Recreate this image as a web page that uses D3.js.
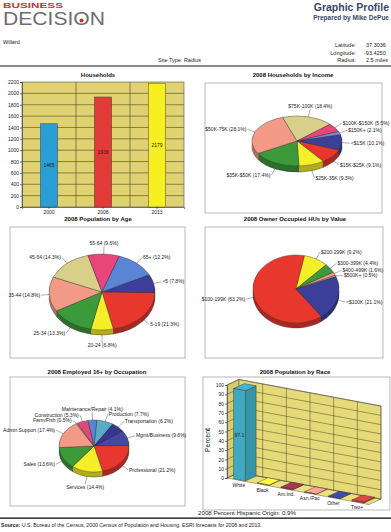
<!DOCTYPE html>
<html>
<head>
<meta charset="utf-8">
<script src="https://cdn.jsdelivr.net/npm/d3@7"></script>
<style>
  body { margin: 0; background: #fff; }
  svg { display: block; font-family: "Liberation Sans", Arial, sans-serif; }
</style>
</head>
<body>
<script>
// ---- data ----
const hhYears = ["2000", "2008", "2013"];
const hhValues = [1465, 1936, 2179];
const hhColors = ["#2a9fd6", "#e23a36", "#f7ef1f"];

const incomeLabels = ["<$15K", "$15K-$25K", "$25K-35K", "$35K-$50K", "$50K-75K", "$75K-100K", "$100K-$150K", "$150K+"];
const incomeValues = [10.1, 9.1, 9.3, 17.4, 28.1, 18.4, 5.5, 2.1];
const incomeColors = ["#3b3f9a", "#e8382e", "#f5ef2a", "#3c9a3a", "#f29a86", "#d8d08a", "#e8457a", "#7a8ad0"];

const ageLabels = ["<5", "5-19", "20-24", "25-34", "35-44", "45-54", "55-64", "65+"];
const ageValues = [7.8, 21.3, 6.8, 13.3, 14.8, 14.3, 9.6, 12.2];
const ageColors = ["#3b3f9a", "#e8382e", "#f5ef2a", "#3c9a3a", "#f29a86", "#d8d08a", "#e8457a", "#5a84d4"];

const valueLabels = ["<$100K", "$100-199K", "$200-299K", "$300-399K", "$400-499K", "$500K+"];
const valueValues = [21.1, 63.2, 9.2, 4.4, 1.6, 0.5];
const valueColors = ["#3b3f9a", "#e8382e", "#f5ef2a", "#3c9a3a", "#f29a86", "#d8d08a"];

const occLabels = ["Mgmt/Business", "Professional", "Services", "Sales", "Admin Support", "Farm/Fish", "Construction", "Maintenance/Repair", "Production", "Transportation"];
const occValues = [9.6, 21.2, 14.4, 13.6, 17.4, 0.5, 5.3, 4.1, 7.7, 6.2];
const occColors = ["#4547a2", "#e8382e", "#f5ef2a", "#3c9a3a", "#f29a86", "#d8d08a", "#e04a7a", "#5a84d4", "#5aaac8", "#35388c"];

const raceLabels = ["White", "Black", "Am.Ind.", "Asn./Pac", "Other", "Two+"];
const raceValues = [97.1, 0.5, 0.6, 0.3, 0.4, 1.1];
const raceColors = ["#3fa9c2", "#f3ee3a", "#a3304a", "#f29a86", "#3848a0", "#d04040"];
const raceTicks = d3.range(0, 101, 10);
const hispanicPct = 0.9;

const svg = d3.select("body").append("svg")
  .attr("width", 391)
  .attr("height", 532);

// ---- header ----
svg.append("text").attr("x", 3).attr("y", 7.6)
  .attr("font-size", 8).attr("font-weight", "bold").attr("fill", "#c8372d")
  .attr("textLength", 60).attr("lengthAdjust", "spacingAndGlyphs")
  .text("BUSINESS");
const logo = svg.append("text").attr("x", 3).attr("y", 24.5)
  .attr("font-size", 17.5).attr("fill", "#6d6d6d")
  .attr("textLength", 102).attr("lengthAdjust", "spacingAndGlyphs")
  .text("DECISION");
const oBox = logo.node().getExtentOfChar(6);
svg.append("circle")
  .attr("cx", oBox.x + oBox.width / 2).attr("cy", oBox.y + oBox.height * 0.6)
  .attr("r", 2.1).attr("fill", "#c8372d");

svg.append("text").attr("x", 389).attr("y", 11).attr("text-anchor", "end")
  .attr("font-size", 10.5).attr("font-weight", "bold").attr("fill", "#34466a")
  .text("Graphic Profile");
svg.append("text").attr("x", 389).attr("y", 20).attr("text-anchor", "end")
  .attr("font-size", 6.5).attr("font-weight", "bold").attr("fill", "#34466a")
  .text("Prepared by Mike DePue");

const small = (x, y, t, anchor) => svg.append("text").attr("x", x).attr("y", y)
  .attr("font-size", 5.5).attr("fill", "#222").attr("text-anchor", anchor || "start").text(t);
small(3, 44, "Willard");
small(356, 47, "Latitude:", "end");
small(356, 55, "Longitude:", "end");
small(356, 62, "Radius:", "end");
small(366, 47, "37.3036");
small(364, 55, "-93.4250");
small(366, 62, "2.5 miles");
small(158, 62, "Site Type:  Radius");
svg.append("rect").attr("x", 0).attr("y", 65).attr("width", 391).attr("height", 2).attr("fill", "#8a8a8a");

const title = (x, y, t) => svg.append("text").attr("x", x).attr("y", y)
  .attr("text-anchor", "middle").attr("font-size", 6).attr("font-weight", "bold")
  .attr("fill", "#111").text(t);

// ---- households bar chart ----
title(98, 77, "Households");
const hx = d3.scaleBand().domain(hhYears).range([22, 184]).paddingInner(0.68).paddingOuter(0.34);
const hy = d3.scaleLinear().domain([0, 2200]).range([207, 82]);
svg.append("rect").attr("x", 22).attr("y", 82).attr("width", 162).attr("height", 125)
  .attr("fill", "#e0d271").attr("stroke", "#555").attr("stroke-width", 0.6);
svg.append("g").selectAll("line").data(d3.range(200, 2200, 200)).join("line")
  .attr("x1", 22).attr("x2", 184).attr("y1", d => hy(d)).attr("y2", d => hy(d))
  .attr("stroke", "#4a4530").attr("stroke-width", 0.6);
svg.append("g").selectAll("line").data(hhYears.slice(1)).join("line")
  .attr("x1", d => hx(d) - hx.step() * hx.paddingInner() / 2)
  .attr("x2", d => hx(d) - hx.step() * hx.paddingInner() / 2)
  .attr("y1", 82).attr("y2", 207)
  .attr("stroke", "#4a4530").attr("stroke-width", 0.6);
svg.append("g").selectAll("rect").data(hhValues).join("rect")
  .attr("x", (d, i) => hx(hhYears[i])).attr("width", hx.bandwidth())
  .attr("y", d => hy(d)).attr("height", d => 207 - hy(d))
  .attr("fill", (d, i) => hhColors[i]).attr("stroke", "#444").attr("stroke-width", 0.5);
svg.append("g").selectAll("text").data(hhValues).join("text")
  .attr("x", (d, i) => hx(hhYears[i]) + hx.bandwidth() / 2)
  .attr("y", d => (hy(d) + 207) / 2 + 2)
  .attr("text-anchor", "middle").attr("font-size", 5).attr("fill", "#222").text(d => d);
const hAxisL = svg.append("g").attr("transform", "translate(22,0)")
  .call(d3.axisLeft(hy).tickValues(d3.range(0, 2201, 200)).tickFormat(d3.format("d")).tickSize(2).tickPadding(1));
const hAxisB = svg.append("g").attr("transform", "translate(0,207)")
  .call(d3.axisBottom(hx).tickSize(2).tickPadding(1));
[hAxisL, hAxisB].forEach(a => {
  a.selectAll("text").attr("font-size", 5).attr("fill", "#222").attr("font-family", "Liberation Sans, Arial, sans-serif");
  a.selectAll("line,path").attr("stroke", "#333").attr("stroke-width", 0.6);
});

// ---- 3d pies ----
function pie3d(o) {
  const [fx0, fy0, fx1, fy1] = o.frame;
  svg.append("rect").attr("x", fx0).attr("y", fy0).attr("width", fx1 - fx0).attr("height", fy1 - fy0)
    .attr("fill", "#fff").attr("stroke", "#9a9a9a").attr("stroke-width", 0.7);
  title(o.titleX, o.titleY, o.title);
  const a0 = o.start * Math.PI / 180;
  const arcs = d3.pie().sort(null).startAngle(a0).endAngle(a0 + 2 * Math.PI)(o.values);
  const arc = d3.arc().innerRadius(0).outerRadius(o.rx);
  const k = o.ry / o.rx;
  for (let d = o.depth; d >= 0; d--) {
    const layer = svg.append("g").attr("transform", `translate(${o.cx},${o.cy + d}) scale(1,${k})`);
    layer.selectAll("path").data(arcs).join("path")
      .attr("d", arc)
      .attr("fill", (a, i) => d === 0 ? o.colors[i] : d3.color(o.colors[i]).darker(0.9))
      .attr("stroke", d === 0 || d === o.depth ? "#333" : "none")
      .attr("stroke-width", 0.4)
      .attr("vector-effect", "non-scaling-stroke");
  }
  // labels
  const ext = 8;
  const pts = arcs.map((a, i) => {
    const m = (a.startAngle + a.endAngle) / 2;
    const s = Math.sin(m), c = -Math.cos(m);
    const dep = c > 0 ? o.depth * c : 0;
    const anchor = Math.abs(s) < 0.3 ? "middle" : (s > 0 ? "start" : "end");
    return {
      i, s, anchor,
      ex: o.cx + o.rx * s, ey: o.cy + o.ry * c + dep,
      lx: o.cx + (o.rx + ext) * s, ly: o.cy + (o.ry + ext) * c + dep,
      ty: 0
    };
  });
  pts.forEach(p => {
    p.ty = p.anchor !== "middle" ? p.ly + 1.7 : (p.ly < o.cy ? p.ly - 1 : p.ly + 4.5);
  });
  [pts.filter(p => p.s >= 0), pts.filter(p => p.s < 0)].forEach(grp => {
    grp.sort((a, b) => a.ty - b.ty);
    for (let j = 1; j < grp.length; j++) {
      if (grp[j].ty < grp[j - 1].ty + 5.5) grp[j].ty = grp[j - 1].ty + 5.5;
    }
  });
  const lg = svg.append("g");
  pts.forEach(p => {
    const endY = p.anchor !== "middle" ? p.ty - 1.7 : (p.ly < o.cy ? p.ty + 1 : p.ty - 4.5);
    lg.append("line").attr("x1", p.ex).attr("y1", p.ey).attr("x2", p.lx).attr("y2", endY)
      .attr("stroke", "#333").attr("stroke-width", 0.4);
    lg.append("text")
      .attr("x", p.lx + (p.anchor === "start" ? 1 : p.anchor === "end" ? -1 : 0))
      .attr("y", p.ty).attr("text-anchor", p.anchor)
      .attr("font-size", 5).attr("fill", "#222")
      .text(`${o.labels[p.i]} (${o.values[p.i].toFixed(1)}%)`);
  });
}

pie3d({ title: "2008 Households by Income", titleX: 293, titleY: 77, frame: [205, 83, 382, 213],
  labels: incomeLabels, values: incomeValues, colors: incomeColors,
  cx: 297, cy: 141, rx: 45, ry: 25, depth: 6, start: 75 });
pie3d({ title: "2008 Population by Age", titleX: 98, titleY: 221, frame: [10, 227, 185, 358],
  labels: ageLabels, values: ageValues, colors: ageColors,
  cx: 102, cy: 292, rx: 53, ry: 38, depth: 5, start: 63 });
pie3d({ title: "2008 Owner Occupied HUs by Value", titleX: 295, titleY: 221, frame: [205, 227, 383, 358],
  labels: valueLabels, values: valueValues, colors: valueColors,
  cx: 296, cy: 289, rx: 43, ry: 34, depth: 5, start: 68 });
pie3d({ title: "2008 Employed 16+ by Occupation", titleX: 97, titleY: 374, frame: [10, 377, 185, 506],
  labels: occLabels, values: occValues, colors: occColors,
  cx: 94, cy: 446, rx: 35, ry: 26, depth: 5, start: 55 });

// ---- 3d race bar chart ----
title(295, 374, "2008 Population by Race");
svg.append("rect").attr("x", 203).attr("y", 377).attr("width", 187).attr("height", 133)
  .attr("fill", "#fff").attr("stroke", "#9a9a9a").attr("stroke-width", 0.7);
const R = { x0: 227, y0: 478, slope: 0.187, dx: 12, dy: -5.5 };
const rt = d3.scaleLinear().domain([0, 6]).range([0, 142]);
const rv = d3.scaleLinear().domain([0, 100]).range([0, 93]);
const rb = d3.scaleBand().domain(raceLabels).range([0, 6]).paddingInner(0.5).paddingOuter(0.25);
const P = (t, v, z) => {
  const u = rt(t);
  return [R.x0 + u + z * R.dx, R.y0 + u * R.slope - rv(v) + z * R.dy];
};
const poly = pts => "M" + pts.map(p => p.join(",")).join("L") + "Z";
const rg = svg.append("g");
rg.append("path").attr("d", poly([P(0, 0, 0), P(6, 0, 0), P(6, 0, 1), P(0, 0, 1)]))
  .attr("fill", "#ece07c").attr("stroke", "#555").attr("stroke-width", 0.5);
rg.append("path").attr("d", poly([P(0, 0, 0), P(0, 100, 0), P(0, 100, 1), P(0, 0, 1)]))
  .attr("fill", "#d9cc6c").attr("stroke", "#555").attr("stroke-width", 0.5);
rg.append("path").attr("d", poly([P(0, 0, 1), P(6, 0, 1), P(6, 100, 1), P(0, 100, 1)]))
  .attr("fill", "#e6d977").attr("stroke", "#555").attr("stroke-width", 0.5);
rg.selectAll("path.grid").data(raceTicks).join("path").attr("class", "grid")
  .attr("d", v => "M" + [P(0, v, 0), P(0, v, 1), P(6, v, 1)].map(p => p.join(",")).join("L"))
  .attr("fill", "none").attr("stroke", "#4a4530").attr("stroke-width", 0.5);
rg.selectAll("path.vgrid").data(d3.range(1, 7)).join("path").attr("class", "vgrid")
  .attr("d", t => "M" + [P(t, 0, 1), P(t, 100, 1)].map(p => p.join(",")).join("L"))
  .attr("fill", "none").attr("stroke", "#4a4530").attr("stroke-width", 0.5);
raceValues.forEach((v, i) => {
  const t0 = rb(raceLabels[i]), t1 = t0 + rb.bandwidth();
  const z0 = 0.05, z1 = 0.95;
  const c = d3.color(raceColors[i]);
  rg.append("path").attr("d", poly([P(t1, 0, z0), P(t1, 0, z1), P(t1, v, z1), P(t1, v, z0)]))
    .attr("fill", c.darker(0.4)).attr("stroke", "#333").attr("stroke-width", 0.4);
  rg.append("path").attr("d", poly([P(t0, v, z0), P(t1, v, z0), P(t1, v, z1), P(t0, v, z1)]))
    .attr("fill", c.brighter(0.2)).attr("stroke", "#333").attr("stroke-width", 0.4);
  rg.append("path").attr("d", poly([P(t0, 0, z0), P(t1, 0, z0), P(t1, v, z0), P(t0, v, z0)]))
    .attr("fill", c).attr("stroke", "#333").attr("stroke-width", 0.4);
  if (v > 5) {
    const [lx, ly] = P((t0 + t1) / 2, v / 2, z0);
    rg.append("text").attr("x", lx).attr("y", ly + 2).attr("text-anchor", "middle")
      .attr("font-size", 5).attr("fill", "#222").text(v.toFixed(1));
  }
  const [nx, ny] = P(rb(raceLabels[i]) + rb.bandwidth() / 2, 0, 0);
  rg.append("text").attr("x", nx).attr("y", ny + 7).attr("text-anchor", "middle")
    .attr("font-size", 5).attr("fill", "#222").text(raceLabels[i]);
});
const ryAxis = svg.append("g").attr("transform", `translate(${R.x0},0)`)
  .call(d3.axisLeft(d3.scaleLinear().domain([0, 100]).range([R.y0, R.y0 - rv(100)]))
    .tickValues(raceTicks).tickSize(2).tickPadding(1));
ryAxis.selectAll("text").attr("font-size", 5).attr("fill", "#222").attr("font-family", "Liberation Sans, Arial, sans-serif");
ryAxis.selectAll("line,path").attr("stroke", "#333").attr("stroke-width", 0.6);
svg.append("text").attr("transform", "translate(210,440) rotate(-90)")
  .attr("text-anchor", "middle").attr("font-size", 7).attr("fill", "#222").text("Percent");
svg.append("text").attr("x", 198).attr("y", 515).attr("font-size", 6.2).attr("fill", "#222")
  .text(`2008 Percent Hispanic Origin: ${hispanicPct}%`);

// ---- footer ----
svg.append("rect").attr("x", 0).attr("y", 517.5).attr("width", 391).attr("height", 1.3).attr("fill", "#111");
const src = svg.append("text").attr("x", 1).attr("y", 527).attr("font-size", 5.2).attr("fill", "#222");
src.append("tspan").attr("font-weight", "bold").text("Source: ");
src.append("tspan").text("U.S. Bureau of the Census, 2000 Census of Population and Housing. ESRI forecasts for 2008 and 2013.");
</script>
</body>
</html>
